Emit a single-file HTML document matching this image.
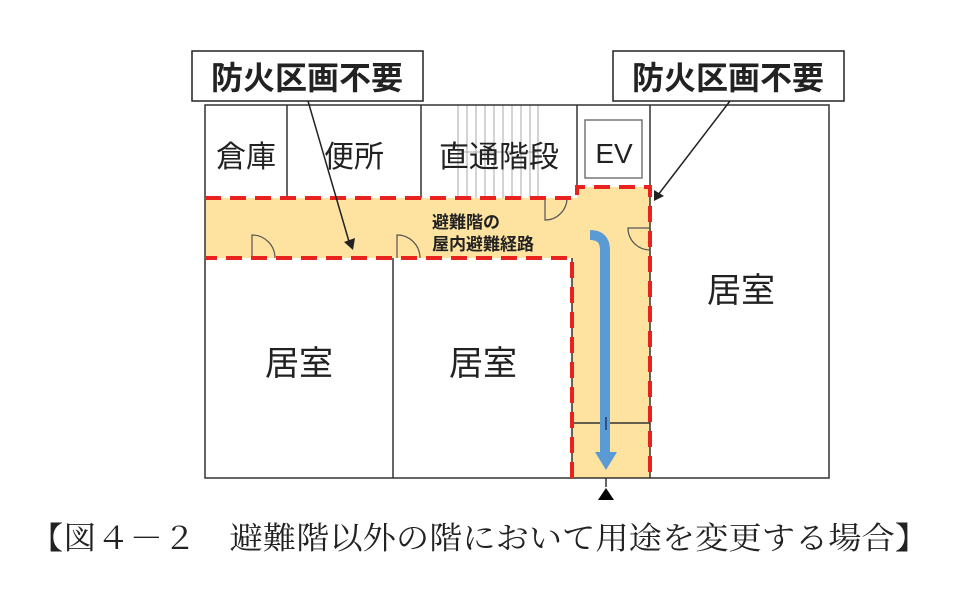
<!DOCTYPE html>
<html><head><meta charset="utf-8"><style>
body{margin:0;background:#fff;width:954px;height:584px;overflow:hidden}
svg text{font-family:"Liberation Sans","Noto Sans CJK JP",sans-serif}
</style></head><body>
<svg width="954" height="584" viewBox="0 0 954 584" xmlns="http://www.w3.org/2000/svg">
<path d="M205 198 H577 V187 H650 V478 H572 V258 H205 Z" fill="#fde2a0"/>
<g stroke="#aaa" stroke-width="1">
<line x1="458" y1="105" x2="458" y2="198"/><line x1="467" y1="105" x2="467" y2="198"/><line x1="476" y1="105" x2="476" y2="198"/><line x1="485" y1="105" x2="485" y2="198"/><line x1="494" y1="105" x2="494" y2="198"/><line x1="503" y1="105" x2="503" y2="198"/><line x1="512" y1="105" x2="512" y2="198"/><line x1="521" y1="105" x2="521" y2="198"/><line x1="530" y1="105" x2="530" y2="198"/><line x1="538" y1="105" x2="538" y2="198"/>
<line x1="458" y1="152" x2="538" y2="152"/>
</g>
<g stroke="#333" stroke-width="1.5" fill="none">
<rect x="205" y="105" width="624" height="373"/>
<line x1="287" y1="105" x2="287" y2="198"/>
<line x1="421" y1="105" x2="421" y2="198"/>
<line x1="577" y1="105" x2="577" y2="187"/>
<line x1="650" y1="105" x2="650" y2="478"/>
<line x1="393" y1="258" x2="393" y2="478"/>
<line x1="572" y1="258" x2="572" y2="478"/>
<line x1="572" y1="423" x2="650" y2="423"/>
<rect x="585" y="120" width="57" height="58" stroke="#777"/>
</g>
<g stroke="#555" stroke-width="1.2" fill="none">
<path d="M252 258 V235 A23 23 0 0 1 275 258"/>
<path d="M397 258 V235 A23 23 0 0 1 420 258"/>
<path d="M545 198 V220 A22 22 0 0 0 567 198"/>
<path d="M650 228 H628 A22 22 0 0 0 650 250"/>
</g>
<path d="M205 198 H577 V187 H650 V478 M572 478 V258 H205" fill="none" stroke="#e8231f" stroke-width="4" stroke-dasharray="16,9"/>
<path d="M590 235 Q605 235 605 250 V455" fill="none" stroke="#5b9bd5" stroke-width="10"/>
<path d="M595 452 H617 L606 470 Z" fill="#5b9bd5"/>
<line x1="606" y1="417" x2="606" y2="430" stroke="#1f3864" stroke-width="1.5"/>
<line x1="606" y1="478" x2="606" y2="487" stroke="#333" stroke-width="1.5"/>
<path d="M598 500 H614 L606 488 Z" fill="#000"/>
<g stroke="#222" stroke-width="1.5" fill="#fff">
<rect x="192" y="51" width="231" height="50"/>
<rect x="613" y="51" width="231" height="50"/>
</g>
<text x="307" y="89" font-size="32" font-weight="bold" text-anchor="middle" fill="#222">防火区画不要</text>
<text x="728" y="89" font-size="32" font-weight="bold" text-anchor="middle" fill="#222">防火区画不要</text>
<g stroke="#222" stroke-width="1.5">
<line x1="308" y1="101" x2="350" y2="245"/>
<line x1="730" y1="101" x2="658" y2="195"/>
</g>
<path d="M344 242 L353 250 L355 238 Z" fill="#222"/>
<path d="M654 190 L654 201 L664 196 Z" fill="#222"/>
<g font-size="30" fill="#222" text-anchor="middle">
<text x="246" y="167">倉庫</text>
<text x="354" y="167">便所</text>
<text x="499" y="167">直通階段</text>
<text x="614" y="163" font-size="28">EV</text>
<text x="299" y="375" font-size="34">居室</text>
<text x="483" y="375" font-size="34">居室</text>
<text x="741" y="302" font-size="34">居室</text>
</g>
<g font-size="17" font-weight="bold" fill="#222">
<text x="432" y="228">避難階の</text>
<text x="432" y="250">屋内避難経路</text>
</g>
<text x="30" y="549" font-size="31" textLength="898" lengthAdjust="spacingAndGlyphs" fill="#222" style="font-family:'Liberation Serif','Noto Serif CJK SC',serif">【図４－２　避難階以外の階において用途を変更する場合】</text>
</svg>
</body></html>
